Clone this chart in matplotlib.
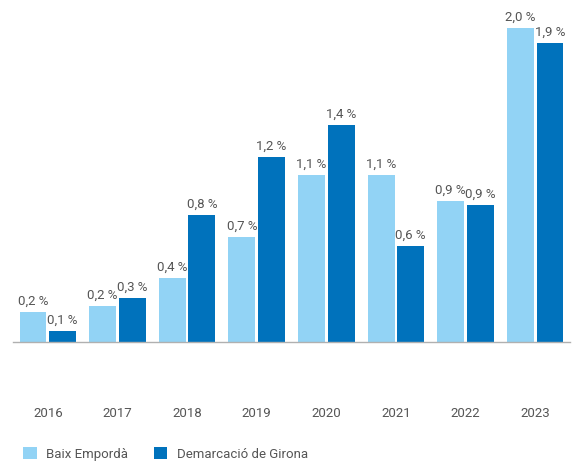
import numpy as np
import matplotlib
matplotlib.use("Agg")
import matplotlib.pyplot as plt

plt.rcParams['font.family'] = ['Roboto', 'DejaVu Sans']

years = ['2016', '2017', '2018', '2019', '2020', '2021', '2022', '2023']
baix = [0.19, 0.23, 0.41, 0.67, 1.06, 1.06, 0.90, 2.00]
girona = [0.07, 0.28, 0.81, 1.18, 1.38, 0.61, 0.87, 1.90]
baix_labels = ['0,2 %', '0,2 %', '0,4 %', '0,7 %', '1,1 %', '1,1 %', '0,9 %', '2,0 %']
girona_labels = ['0,1 %', '0,3 %', '0,8 %', '1,2 %', '1,4 %', '0,6 %', '0,9 %', '1,9 %']

c_light = '#92d3f5'
c_dark = '#0072bc'
txt = '#555555'

fig = plt.figure(figsize=(5.73, 4.68), dpi=100)
ax = fig.add_axes([13 / 573, 126 / 468, 557 / 573, 330 / 468])

x = np.arange(len(years))
w = 0.385
b1 = ax.bar(x - w / 2 - 0.02, baix, w, color=c_light, label='Baix Empordà')
b2 = ax.bar(x + w / 2 + 0.02, girona, w, color=c_dark, label='Demarcació de Girona')

for bars, labs in [(b1, baix_labels), (b2, girona_labels)]:
    for r, lab in zip(bars, labs):
        ax.annotate(lab, (r.get_x() + r.get_width() / 2, r.get_height()),
                    xytext=(0, 3), textcoords='offset points',
                    ha='center', va='bottom', fontsize=9.5, color=txt)

ax.set_xlim(-0.5, len(years) - 0.5)
ax.set_ylim(0, 2.1)
ax.set_xticks(x)
ax.set_xticklabels(years, fontsize=9.5, color=txt)
ax.tick_params(axis='x', length=0, pad=47)
ax.set_yticks([])
for s in ['top', 'right', 'left']:
    ax.spines[s].set_visible(False)
ax.spines['bottom'].set_color('#b0b0b0')
ax.spines['bottom'].set_linewidth(1)

leg = fig.legend(handles=[b1, b2], loc='lower left', bbox_to_anchor=(0.02, -0.01),
                 ncol=2, frameon=False, fontsize=9.5, handlelength=1.0, handleheight=1.0,
                 columnspacing=2.0, handletextpad=0.7)
for t in leg.get_texts():
    t.set_color(txt)

fig.savefig('out.png', dpi=100)
